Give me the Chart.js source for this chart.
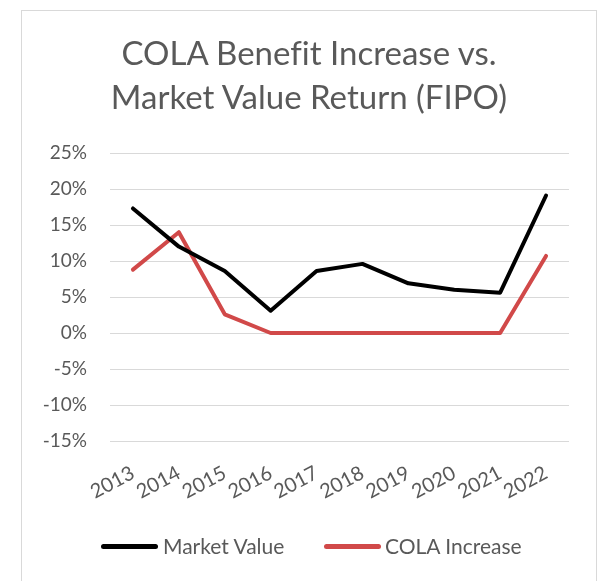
<!DOCTYPE html>
<html>
<head>
<meta charset="utf-8">
<script src="https://cdn.jsdelivr.net/npm/chart.js@4.4.1/dist/chart.umd.min.js"></script>
<style>
    body { margin: 0; background: #ffffff; }
    #wrap { position: relative; width: 600px; height: 581px; overflow: hidden; }
    #frame { position: absolute; left: 21px; top: 10px; width: 576px; height: 600px; border: 1px solid #d9d9d9; box-sizing: border-box; }
    #chart { position: absolute; left: 0; top: 0; }
    #title { position: absolute; left: 21px; top: 30px; width: 576px; text-align: center; font-family: Lato, sans-serif; font-size: 33px; line-height: 44px; color: #595959; font-variant-ligatures: none; font-feature-settings: "liga" 0; }
    .legend-line { position: absolute; height: 5px; border-radius: 3px; }
    .legend-text { position: absolute; font-family: Lato, sans-serif; font-size: 21px; line-height: 21px; color: #595959; white-space: nowrap; }
</style>
</head>
<body>
<div id="wrap">
    <div id="frame"></div>
    <canvas id="chart" width="600" height="581"></canvas>
    <div id="title">COLA Benefit Increase vs.<br>Market Value Return (FIPO)</div>
    <div class="legend-line" style="left:101px; top:544px; width:57px; background:#000000;"></div>
    <div class="legend-text" style="left:163px; top:535px;">Market Value</div>
    <div class="legend-line" style="left:324px; top:544px; width:57px; background:#d14949;"></div>
    <div class="legend-text" style="left:385px; top:535px;">COLA Increase</div>
</div>
<script>
// Chart data
const years = ['2013', '2014', '2015', '2016', '2017', '2018', '2019', '2020', '2021', '2022'];
const marketValue = [17.3, 12.0, 8.6, 3.1, 8.6, 9.6, 6.9, 6.0, 5.6, 19.1];
const colaIncrease = [8.8, 14.0, 2.6, 0, 0, 0, 0, 0, 0, 10.7];
const yTicks = { min: -15, max: 25, step: 5 };

const grey = '#595959';

const ctx = document.getElementById('chart').getContext('2d');
const chart = new Chart(ctx, {
    type: 'line',
    data: {
        labels: years,
        datasets: [{
            label: 'Market Value',
            data: marketValue,
            borderColor: '#000000',
            borderWidth: 4,
            borderJoinStyle: 'round',
            borderCapStyle: 'round',
            pointRadius: 0,
            tension: 0
        }, {
            label: 'COLA Increase',
            data: colaIncrease,
            borderColor: '#d14949',
            borderWidth: 4,
            borderJoinStyle: 'round',
            borderCapStyle: 'round',
            pointRadius: 0,
            tension: 0
        }]
    },
    options: {
        responsive: false,
        animation: false,
        layout: { padding: { left: 20, right: 31, top: 153, bottom: 80 } },
        plugins: {
            legend: { display: false },
            tooltip: { enabled: false },
            title: { display: false }
        },
        scales: {
            x: {
                offset: true,
                grid: { display: false },
                border: { display: false },
                ticks: {
                    color: grey,
                    font: { family: 'Lato', size: 20 },
                    minRotation: 28,
                    maxRotation: 28,
                    autoSkip: false,
                    padding: 12
                },
                afterFit: function(scale) { scale.height = 60; }
            },
            y: {
                min: yTicks.min,
                max: yTicks.max,
                grid: { color: '#d9d9d9', lineWidth: 1, drawTicks: false },
                border: { display: false },
                ticks: {
                    stepSize: yTicks.step,
                    color: grey,
                    font: { family: 'Lato', size: 19 },
                    padding: 23,
                    callback: v => v + '%'
                },
                afterFit: function(scale) { scale.width = 90; }
            }
        }
    }
});
</script>
</body>
</html>
